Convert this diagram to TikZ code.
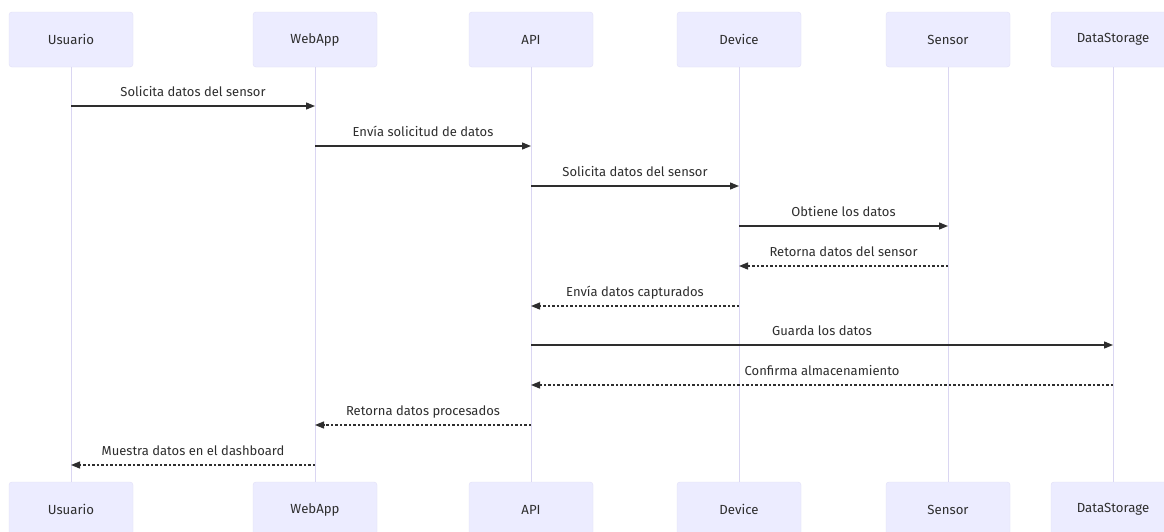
\documentclass[tikz,border=0pt]{standalone}
\usepackage{fontspec}
\setmainfont{Fira Sans}
\usetikzlibrary{arrows.meta,positioning}
\definecolor{actorfill}{HTML}{ECECFF}
\definecolor{actorline}{HTML}{E2E0F7}
\definecolor{lifecol}{HTML}{DAD6F2}
\definecolor{inkcol}{HTML}{2E2E2E}

\tikzset{
	actor/.style={draw=actorline, fill=actorfill, rounded corners=3pt,
		minimum width=124pt, minimum height=55pt, inner sep=0pt,
		font=\fontsize{13.2}{16}\selectfont, text=inkcol},
	lifeline/.style={draw=lifecol, line width=1pt},
	msg/.style={draw=inkcol, line width=1.3pt, -{Triangle[length=9pt,width=7pt]}},
	reply/.style={msg, dash pattern=on 2.5pt off 2pt},
	msglabel/.style={font=\fontsize{13}{16}\selectfont, text=inkcol, anchor=base, yshift=10pt}
}

\begin{document}
\begin{tikzpicture}[x=1pt,y=-1pt]
\clip (0,0) rectangle (1164,531);
\fill[white] (0,0) rectangle (1164,531);
\foreach \n/\x in {Usuario/71,WebApp/315,API/531,Device/739,Sensor/948,DataStorage/1113} {
	\node[actor] (top-\n) at (\x,39.5) {\n};
	\node[actor] (bot-\n) at (\x,509.5) {\n};
	\draw[lifeline] (top-\n) -- (bot-\n);
}
% requests
\foreach \a/\b/\y/\t in {Usuario/WebApp/106/Solicita datos del sensor,
		WebApp/API/146/Envía solicitud de datos,
		API/Device/186/Solicita datos del sensor,
		Device/Sensor/226/Obtiene los datos,
		API/DataStorage/345/Guarda los datos}
	\draw[msg] (top-\a |- 0,\y) -- node[msglabel] {\t} (top-\b |- 0,\y);
% replies
\foreach \a/\b/\y/\t in {Sensor/Device/266/Retorna datos del sensor,
		Device/API/306/Envía datos capturados,
		DataStorage/API/385/Confirma almacenamiento,
		API/WebApp/425/Retorna datos procesados,
		WebApp/Usuario/465/Muestra datos en el dashboard}
	\draw[reply] (top-\a |- 0,\y) -- node[msglabel] {\t} (top-\b |- 0,\y);
\end{tikzpicture}
\end{document}
